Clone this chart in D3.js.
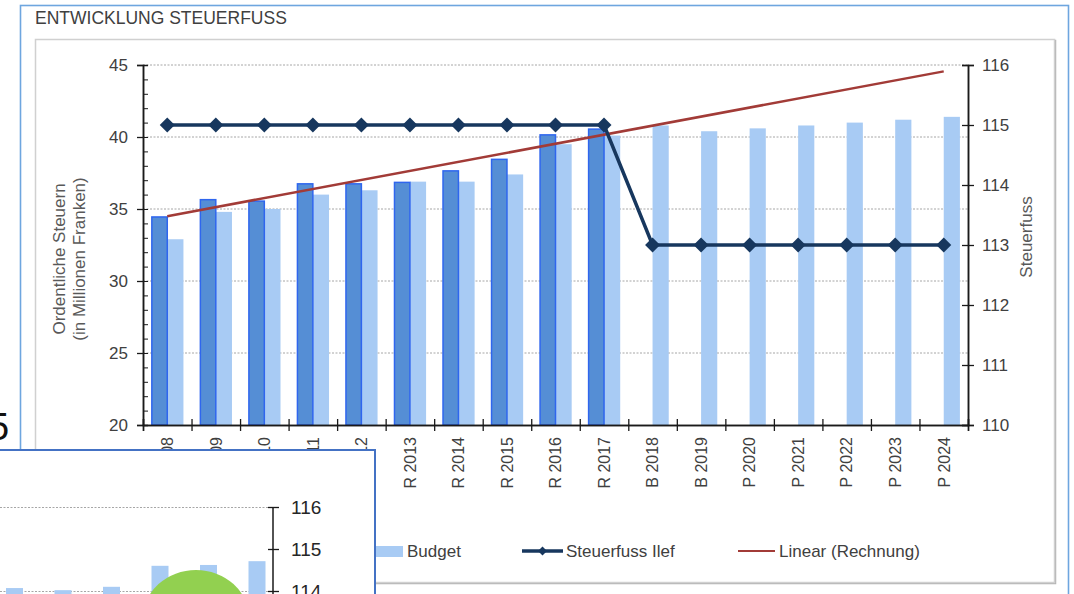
<!DOCTYPE html>
<html>
<head>
<meta charset="utf-8">
<script src="https://cdn.jsdelivr.net/npm/d3@7"></script>
<style>
  html, body { margin: 0; padding: 0; background: #fff; }
  svg { display: block; font-family: "Liberation Sans", Arial, sans-serif; }
</style>
</head>
<body>
<svg id="chart" width="1074" height="594"></svg>
<script>
// Kategorien (Rechnung / Budget / Plan)
const categories = ["R 2008", "R 2009", "R 2010", "R 2011", "R 2012", "R 2013", "R 2014", "R 2015",
  "R 2016", "R 2017", "B 2018", "B 2019", "P 2020", "P 2021", "P 2022", "P 2023", "P 2024"];
// Ordentliche Steuern in Mio. CHF
const rechnung = [34.5, 35.7, 35.6, 36.8, 36.8, 36.9, 37.7, 38.5, 40.2, 40.6,
  null, null, null, null, null, null, null];
const budget = [32.9, 34.8, 35.0, 36.0, 36.3, 36.9, 36.9, 37.4, 39.5, 40.1,
  40.8, 40.4, 40.6, 40.8, 41.0, 41.2, 41.4];
// Steuerfuss in %
const steuerfuss = [115, 115, 115, 115, 115, 115, 115, 115, 115, 115, 113, 113, 113, 113, 113, 113, 113];
const leftTicks = [20, 25, 30, 35, 40, 45];
const leftMinorTicks = d3.range(20, 46, 1);
const rightTicks = [110, 111, 112, 113, 114, 115, 116];
const legendNames = ["Budget", "Steuerfuss Ilef", "Linear (Rechnung)"];

// Überlagerndes Fenster (Ausschnitt einer zweiten Grafik)
const overlayCategories = ["a", "b", "c", "d", "e", "f"];
const overlayBudget = [114.07, 114.02, 114.1, 114.6, 114.62, 114.71];
const overlayTicks = [114, 115, 116];

const colRechnung = "#558ed5", colRechnungEdge = "#2f66ee", colBudget = "#a8cbf4";
const colSteuer = "#17375e", colTrend = "#a23b37", txt = "#404040";
const fmtInt = d3.format("d");

const svg = d3.select("#chart");
svg.append("rect").attr("width", 1074).attr("height", 594).attr("fill", "#fff");

// Fragment eines Fensters am linken Rand
svg.append("text").attr("x", -12).attr("y", 440).attr("font-size", 38).attr("fill", "#111").text("5");

// äusserer Rahmen und Titel
svg.append("rect").attr("x", 20.5).attr("y", 5.5).attr("width", 1048).attr("height", 620)
  .attr("fill", "none").attr("stroke", "#6ea6df").attr("stroke-width", 1.6);
svg.append("text").attr("x", 35).attr("y", 24).attr("font-size", 17.5).attr("fill", txt)
  .text("ENTWICKLUNG STEUERFUSS");

// Diagrammfläche
svg.append("rect").attr("x", 36.5).attr("y", 40.5).attr("width", 1019).attr("height", 543)
  .attr("fill", "none").attr("stroke", "#b4b4b4").attr("stroke-width", 1.5);
svg.append("rect").attr("x", 35.5).attr("y", 39.5).attr("width", 1019).attr("height", 543)
  .attr("fill", "#fff").attr("stroke", "#d0d0d0").attr("stroke-width", 1.5);

const x0 = 143, x1 = 968, yTop = 65, yBot = 425;
const x = d3.scaleBand().domain(categories).range([x0, x1]).paddingInner(0).paddingOuter(0);
const xIdx = d3.scaleLinear().domain([0, categories.length]).range([x0, x1]);
const y = d3.scaleLinear().domain([20, 45]).range([yBot, yTop]);
const yR = d3.scaleLinear().domain([110, 116]).range([yBot, yTop]);
const bw = x.bandwidth();
const barW = bw / 3;

// Gitterlinien
svg.append("g").selectAll("line").data(leftTicks.filter(d => d > 20)).join("line")
  .attr("x1", x0).attr("x2", x1).attr("y1", d => y(d)).attr("y2", d => y(d))
  .attr("stroke", "#a6a6a6").attr("stroke-width", 1).attr("stroke-dasharray", "2,1.5");

// Balken
const cx = c => x(c) + bw / 2;
svg.append("g").selectAll("rect").data(categories.map((c, i) => ({ c, v: budget[i] }))).join("rect")
  .attr("x", d => cx(d.c)).attr("width", barW)
  .attr("y", d => y(d.v)).attr("height", d => y(20) - y(d.v))
  .attr("fill", colBudget);
svg.append("g").selectAll("rect").data(categories.map((c, i) => ({ c, v: rechnung[i] })).filter(d => d.v != null)).join("rect")
  .attr("x", d => cx(d.c) - barW + 0.75).attr("width", barW - 0.75)
  .attr("y", d => y(d.v) + 0.75).attr("height", d => y(20) - y(d.v) - 0.75)
  .attr("fill", colRechnung).attr("stroke", colRechnungEdge).attr("stroke-width", 1.5);

// Lineare Trendlinie (Rechnung)
const pts = rechnung.map((v, i) => [i, v]).filter(p => p[1] != null);
const mx = d3.mean(pts, p => p[0]), my = d3.mean(pts, p => p[1]);
const slope = d3.sum(pts, p => (p[0] - mx) * (p[1] - my)) / d3.sum(pts, p => (p[0] - mx) ** 2);
const trend = i => my + slope * (i - mx);
svg.append("path")
  .attr("d", d3.line()([[cx(categories[0]), y(trend(0))], [cx(categories[categories.length - 1]), y(trend(categories.length - 1))]]))
  .attr("stroke", colTrend).attr("stroke-width", 2.5).attr("fill", "none");

// Steuerfuss
const diamond = s => `M0,${-s}L${s},0L0,${s}L${-s},0Z`;
svg.append("path").datum(steuerfuss)
  .attr("d", d3.line().x((d, i) => cx(categories[i])).y(d => yR(d)))
  .attr("stroke", colSteuer).attr("stroke-width", 3.5).attr("fill", "none");
svg.append("g").selectAll("path").data(steuerfuss).join("path")
  .attr("transform", (d, i) => `translate(${cx(categories[i])},${yR(d)})`)
  .attr("d", diamond(7.5)).attr("fill", colSteuer);

// Achsen
function styleAxis(g) {
  g.select(".domain").attr("stroke", "#1a1a1a").attr("stroke-width", 1.5);
  g.selectAll(".tick line").attr("stroke", "#1a1a1a").attr("stroke-width", 1.3);
  g.selectAll("text").attr("fill", txt).attr("font-size", 17)
    .attr("font-family", "'Liberation Sans', Arial, sans-serif");
}
svg.append("g").attr("transform", `translate(${x0},0)`)
  .call(d3.axisRight(y).tickValues(leftMinorTicks).tickSize(5).tickFormat("")).call(styleAxis)
  .call(g => g.selectAll(".tick line").attr("stroke-width", 1));
svg.append("g").attr("transform", `translate(${x0},0)`)
  .call(d3.axisLeft(y).tickValues(leftTicks).tickSize(6).tickPadding(9).tickFormat(fmtInt)).call(styleAxis);

svg.append("g").attr("transform", `translate(${x1},0)`)
  .call(d3.axisLeft(yR).tickValues(rightTicks).tickSize(6).tickFormat("")).call(styleAxis);
svg.append("g").attr("transform", `translate(${x1},0)`)
  .call(d3.axisRight(yR).tickValues(rightTicks).tickSize(6).tickPadding(8).tickFormat(fmtInt)).call(styleAxis);

svg.append("g").attr("transform", `translate(0,${yBot})`)
  .call(d3.axisTop(xIdx).tickValues(d3.range(categories.length + 1)).tickSize(6).tickFormat("")).call(styleAxis);
svg.append("g").attr("transform", `translate(0,${yBot})`)
  .call(d3.axisBottom(xIdx).tickValues(d3.range(categories.length + 1)).tickSize(6).tickFormat("")).call(styleAxis);
svg.append("g").attr("transform", `translate(0,${yBot})`)
  .call(d3.axisBottom(x).tickSize(0)).call(styleAxis)
  .call(g => g.select(".domain").remove())
  .call(g => g.selectAll("text")
    .attr("transform", "rotate(-90)").attr("x", -12).attr("y", 0).attr("dy", "0.36em")
    .attr("font-size", 16).style("text-anchor", "end"));

// Achsentitel
const axTitle = svg.append("text").attr("transform", "translate(65,259) rotate(-90)")
  .attr("text-anchor", "middle").attr("font-size", 17).attr("fill", "#595959");
axTitle.append("tspan").attr("x", 0).attr("y", 0).text("Ordentliche Steuern");
axTitle.append("tspan").attr("x", 0).attr("y", 20).text("(in Millionen Franken)");
svg.append("text").attr("transform", "translate(1032,237) rotate(-90)")
  .attr("text-anchor", "middle").attr("font-size", 17).attr("fill", "#595959").text("Steuerfuss");

// Legende
const ly = 551;
const leg = svg.append("g").attr("font-size", 17).attr("fill", txt);
leg.append("rect").attr("x", 376).attr("y", ly - 5).attr("width", 27).attr("height", 11).attr("fill", colBudget);
leg.append("text").attr("x", 407).attr("y", ly + 6).text(legendNames[0]);
leg.append("line").attr("x1", 522).attr("x2", 563).attr("y1", ly).attr("y2", ly)
  .attr("stroke", colSteuer).attr("stroke-width", 3.5);
leg.append("path").attr("transform", `translate(542.5,${ly})`).attr("d", diamond(4.5)).attr("fill", colSteuer);
leg.append("text").attr("x", 566).attr("y", ly + 6).text(legendNames[1]);
leg.append("line").attr("x1", 738).attr("x2", 775).attr("y1", ly).attr("y2", ly)
  .attr("stroke", colTrend).attr("stroke-width", 2);
leg.append("text").attr("x", 779).attr("y", ly + 6).text(legendNames[2]);

// Überlagerndes Fenster unten links
const ov = svg.append("g");
ov.append("rect").attr("x", -5).attr("y", 450).attr("width", 380).attr("height", 200)
  .attr("fill", "#fff").attr("stroke", "#4472c4").attr("stroke-width", 2);
const ox = d3.scaleBand().domain(overlayCategories).range([-9.75, 281.25]);
const oy = d3.scaleLinear().domain([114, 116]).range([591, 507]);
ov.append("g").selectAll("line").data([114, 116]).join("line")
  .attr("x1", 0).attr("x2", 273).attr("y1", d => oy(d) + 0.5).attr("y2", d => oy(d) + 0.5)
  .attr("stroke", "#a6a6a6").attr("stroke-dasharray", "2,1.5");
ov.append("g").selectAll("rect").data(overlayCategories.map((c, i) => ({ c, v: overlayBudget[i] }))).join("rect")
  .attr("x", d => ox(d.c) + ox.bandwidth() / 2 - 8.5).attr("width", 17)
  .attr("y", d => oy(d.v)).attr("height", d => 620 - oy(d.v))
  .attr("fill", colBudget);
ov.append("ellipse").attr("cx", 196).attr("cy", 618).attr("rx", 53).attr("ry", 48).attr("fill", "#92d050");
ov.append("g").attr("transform", "translate(273,0)")
  .call(d3.axisRight(oy).tickValues(overlayTicks).tickSize(6).tickPadding(12).tickFormat(fmtInt))
  .call(styleAxis)
  .call(g => g.select(".domain").attr("d", "M0,507V600"))
  .call(g => g.selectAll("text").attr("font-size", 19).attr("fill", "#262626"));
ov.append("g").attr("transform", "translate(273,0)")
  .call(d3.axisLeft(oy).tickValues(overlayTicks).tickSize(5).tickFormat(""))
  .call(styleAxis).call(g => g.select(".domain").remove());
</script>
</body>
</html>
